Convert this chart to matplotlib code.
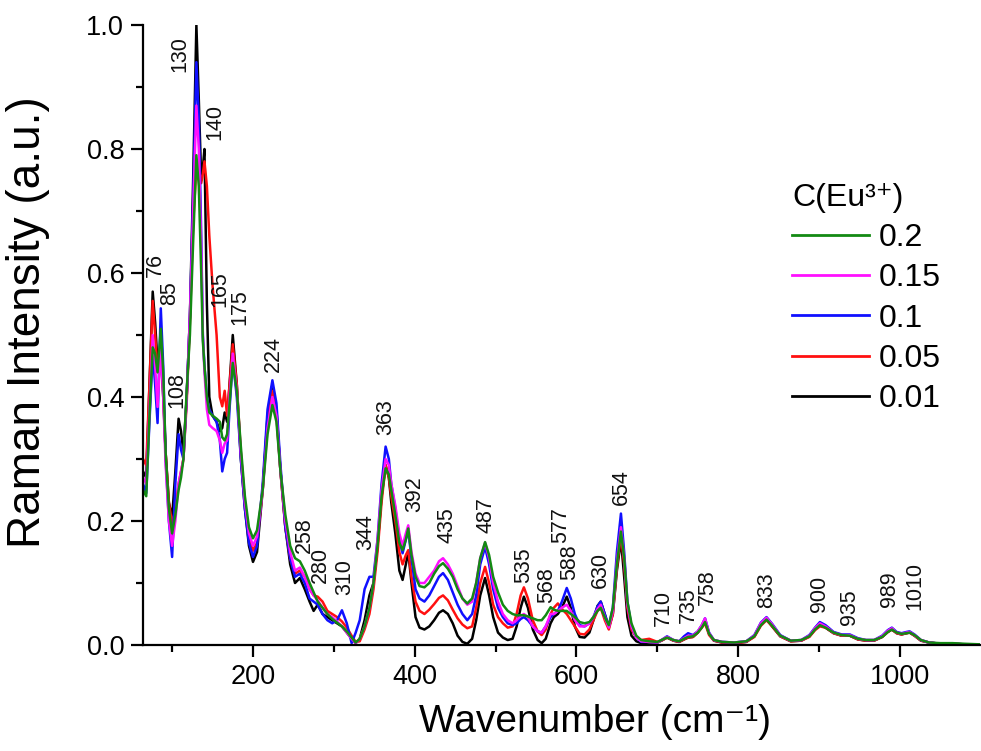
import matplotlib
matplotlib.use("Agg")
import matplotlib.pyplot as plt
from matplotlib.ticker import MultipleLocator, FixedLocator

plt.rcParams['font.family'] = ['Liberation Sans', 'DejaVu Sans']

# ---------------- data ----------------
wavenumber = [
    64, 68, 72, 76, 79, 82, 86, 89, 92, 96, 100, 104, 108, 111, 114, 118, 122, 126, 130, 133,
    136, 138, 140, 143, 146, 150, 155, 159, 162, 165, 168, 171, 175, 180, 185, 190, 195, 200,
    205, 212, 218, 224, 229, 234, 240, 246, 252, 258, 264, 270, 275, 280, 286, 292, 298, 304,
    310, 316, 322, 327,
    332, 338, 344, 349, 354, 359, 364, 368, 371, 376, 381, 385, 389, 392, 396, 401, 406, 412,
    418, 424, 430, 435, 441, 447, 453, 459, 465, 471, 476, 481, 487, 492, 497, 503, 509, 515,
    521, 526, 531, 535, 540, 546, 552, 557, 562, 568, 572, 577, 582, 588, 593, 598, 604, 610,
    616, 621, 626, 630, 635, 640, 645, 650, 655, 659, 663, 668, 674, 680,
    690, 700, 705, 712, 720, 727, 733, 738, 744, 750, 755, 759, 764, 770, 780, 795, 810, 820,
    828, 835, 842, 852, 865, 878, 888, 895, 901, 908, 918, 928, 938, 948, 958, 968, 978, 985,
    990, 996, 1002, 1008, 1012, 1018, 1026, 1036, 1050, 1065, 1080, 1100,
]

int_001 = [
    0.28, 0.27, 0.42, 0.57, 0.52, 0.455, 0.47, 0.40, 0.31, 0.23, 0.205, 0.28, 0.365, 0.345, 0.31, 0.40, 0.53, 0.75, 1.00, 0.88,
    0.75, 0.77, 0.80, 0.55, 0.40, 0.37, 0.36, 0.345, 0.35, 0.375, 0.36, 0.42, 0.50, 0.42, 0.30, 0.22, 0.16, 0.134,
    0.15, 0.25, 0.37, 0.42, 0.38, 0.28, 0.19, 0.13, 0.10, 0.108, 0.09, 0.07, 0.055, 0.065, 0.05, 0.045, 0.04, 0.035,
    0.03, 0.02, 0.01, 0.003,
    0.01, 0.04, 0.08, 0.10, 0.16, 0.24, 0.29, 0.27, 0.23, 0.18, 0.12, 0.105, 0.13, 0.15, 0.10, 0.045, 0.028, 0.025,
    0.03, 0.04, 0.052, 0.056, 0.05, 0.035, 0.015, 0.005, 0.002, 0.01, 0.04, 0.08, 0.108, 0.08, 0.045, 0.02, 0.012, 0.008,
    0.01, 0.03, 0.06, 0.078, 0.06, 0.025, 0.008, 0.003, 0.01, 0.035, 0.045, 0.05, 0.06, 0.078, 0.06, 0.03, 0.013, 0.012,
    0.02, 0.04, 0.063, 0.07, 0.05, 0.028, 0.05, 0.12, 0.17, 0.11, 0.045, 0.015, 0.006, 0.003,
    0.004, 0.004, 0.007, 0.012, 0.007, 0.005, 0.009, 0.012, 0.013, 0.02, 0.03, 0.04, 0.018, 0.007, 0.004, 0.003, 0.005, 0.014,
    0.033, 0.042, 0.03, 0.014, 0.006, 0.007, 0.014, 0.025, 0.033, 0.028, 0.019, 0.015, 0.015, 0.009, 0.007, 0.007, 0.013, 0.021,
    0.025, 0.019, 0.017, 0.019, 0.02, 0.015, 0.007, 0.004, 0.002, 0.002, 0.001, 0.0,
]

int_005 = [
    0.30, 0.29, 0.42, 0.555, 0.50, 0.44, 0.48, 0.41, 0.31, 0.23, 0.195, 0.22, 0.26, 0.28, 0.30, 0.39, 0.52, 0.68, 0.77, 0.77,
    0.745, 0.76, 0.78, 0.74, 0.66, 0.58, 0.50, 0.40, 0.385, 0.41, 0.37, 0.42, 0.485, 0.42, 0.31, 0.23, 0.175, 0.152,
    0.165, 0.25, 0.36, 0.41, 0.37, 0.28, 0.19, 0.14, 0.115, 0.12, 0.11, 0.09, 0.08, 0.078, 0.07, 0.055, 0.05, 0.045,
    0.038, 0.028, 0.015, 0.005,
    0.006, 0.025, 0.05, 0.09, 0.15, 0.23, 0.29, 0.27, 0.24, 0.20, 0.15, 0.13, 0.145, 0.153, 0.11, 0.07, 0.055, 0.05,
    0.057, 0.066, 0.076, 0.08, 0.072, 0.057, 0.043, 0.033, 0.027, 0.03, 0.06, 0.10, 0.126, 0.10, 0.065, 0.045, 0.035, 0.028,
    0.03, 0.05, 0.08, 0.093, 0.075, 0.04, 0.022, 0.016, 0.025, 0.05, 0.06, 0.067, 0.058, 0.05, 0.04, 0.03, 0.018, 0.017,
    0.025, 0.04, 0.055, 0.06, 0.04, 0.025, 0.05, 0.125, 0.178, 0.13, 0.06, 0.025, 0.012, 0.008,
    0.01, 0.005, 0.007, 0.012, 0.007, 0.005, 0.009, 0.012, 0.013, 0.02, 0.028, 0.035, 0.016, 0.007, 0.004, 0.003, 0.005, 0.013,
    0.031, 0.04, 0.03, 0.014, 0.006, 0.007, 0.013, 0.024, 0.03, 0.028, 0.019, 0.015, 0.015, 0.009, 0.007, 0.007, 0.013, 0.021,
    0.025, 0.019, 0.017, 0.019, 0.02, 0.015, 0.007, 0.004, 0.002, 0.002, 0.001, 0.0,
]

int_01 = [
    0.26, 0.245, 0.36, 0.47, 0.42, 0.358, 0.543, 0.45, 0.30, 0.20, 0.142, 0.26, 0.34, 0.315, 0.30, 0.40, 0.53, 0.72, 0.94, 0.85,
    0.66, 0.50, 0.45, 0.40, 0.38, 0.37, 0.36, 0.33, 0.28, 0.30, 0.31, 0.38, 0.46, 0.40, 0.30, 0.22, 0.165, 0.142,
    0.16, 0.26, 0.38, 0.427, 0.39, 0.29, 0.19, 0.14, 0.11, 0.115, 0.10, 0.075, 0.07, 0.065, 0.05, 0.04, 0.035, 0.04,
    0.056, 0.035, 0.003, 0.02,
    0.04, 0.09, 0.11, 0.11, 0.17, 0.26, 0.32, 0.30, 0.26, 0.22, 0.17, 0.148, 0.17, 0.185, 0.14, 0.09, 0.075, 0.07,
    0.08, 0.095, 0.11, 0.116, 0.105, 0.085, 0.065, 0.05, 0.04, 0.05, 0.08, 0.13, 0.158, 0.13, 0.09, 0.06, 0.045, 0.035,
    0.032, 0.035, 0.042, 0.045, 0.04, 0.03, 0.022, 0.02, 0.03, 0.045, 0.05, 0.055, 0.07, 0.092, 0.075, 0.05, 0.032, 0.03,
    0.035, 0.045, 0.062, 0.07, 0.05, 0.03, 0.06, 0.15, 0.212, 0.15, 0.07, 0.03, 0.012, 0.005,
    0.005, 0.004, 0.008, 0.014, 0.008, 0.006, 0.014, 0.019, 0.016, 0.022, 0.032, 0.043, 0.02, 0.008, 0.005, 0.004, 0.006, 0.016,
    0.036, 0.045, 0.034, 0.016, 0.007, 0.008, 0.016, 0.028, 0.037, 0.032, 0.021, 0.017, 0.017, 0.011, 0.008, 0.008, 0.015, 0.024,
    0.028, 0.021, 0.019, 0.021, 0.022, 0.017, 0.008, 0.004, 0.002, 0.002, 0.001, 0.0,
]

int_015 = [
    0.27, 0.26, 0.38, 0.50, 0.45, 0.384, 0.48, 0.40, 0.29, 0.20, 0.16, 0.20, 0.26, 0.28, 0.30, 0.40, 0.53, 0.70, 0.87, 0.80,
    0.64, 0.50, 0.44, 0.38, 0.355, 0.35, 0.345, 0.33, 0.31, 0.325, 0.33, 0.40, 0.47, 0.41, 0.31, 0.23, 0.18, 0.16,
    0.175, 0.25, 0.35, 0.40, 0.37, 0.28, 0.20, 0.15, 0.12, 0.125, 0.11, 0.09, 0.08, 0.072, 0.06, 0.05, 0.045, 0.038,
    0.03, 0.02, 0.01, 0.003,
    0.01, 0.03, 0.06, 0.10, 0.17, 0.25, 0.30, 0.29, 0.26, 0.225, 0.18, 0.16, 0.18, 0.193, 0.15, 0.115, 0.10, 0.10,
    0.11, 0.12, 0.135, 0.14, 0.13, 0.115, 0.095, 0.075, 0.065, 0.07, 0.10, 0.14, 0.165, 0.14, 0.10, 0.07, 0.05, 0.04,
    0.035, 0.04, 0.047, 0.05, 0.045, 0.03, 0.022, 0.02, 0.03, 0.05, 0.05, 0.055, 0.06, 0.065, 0.055, 0.04, 0.03, 0.03,
    0.035, 0.045, 0.058, 0.065, 0.045, 0.028, 0.055, 0.135, 0.19, 0.14, 0.065, 0.03, 0.012, 0.006,
    0.005, 0.004, 0.008, 0.013, 0.008, 0.006, 0.011, 0.015, 0.015, 0.022, 0.032, 0.043, 0.019, 0.008, 0.005, 0.004, 0.006, 0.015,
    0.035, 0.044, 0.033, 0.015, 0.007, 0.008, 0.015, 0.027, 0.035, 0.03, 0.02, 0.016, 0.016, 0.01, 0.008, 0.008, 0.014, 0.023,
    0.027, 0.02, 0.018, 0.02, 0.021, 0.016, 0.008, 0.004, 0.002, 0.002, 0.001, 0.0,
]

int_02 = [
    0.25, 0.24, 0.37, 0.48, 0.47, 0.44, 0.51, 0.44, 0.31, 0.22, 0.18, 0.21, 0.25, 0.27, 0.30, 0.41, 0.50, 0.65, 0.79, 0.74,
    0.60, 0.49, 0.45, 0.40, 0.375, 0.37, 0.365, 0.36, 0.335, 0.33, 0.34, 0.39, 0.455, 0.41, 0.32, 0.24, 0.19, 0.172,
    0.185, 0.25, 0.34, 0.387, 0.36, 0.28, 0.21, 0.16, 0.14, 0.135, 0.12, 0.10, 0.085, 0.07, 0.06, 0.05, 0.042, 0.036,
    0.03, 0.022, 0.012, 0.004,
    0.01, 0.03, 0.06, 0.10, 0.16, 0.24, 0.285, 0.275, 0.25, 0.21, 0.165, 0.153, 0.17, 0.188, 0.145, 0.11, 0.095, 0.093,
    0.10, 0.115, 0.127, 0.132, 0.123, 0.11, 0.09, 0.075, 0.067, 0.075, 0.10, 0.14, 0.166, 0.145, 0.11, 0.085, 0.065, 0.055,
    0.05, 0.048, 0.048, 0.048, 0.046, 0.043, 0.04, 0.04, 0.048, 0.061, 0.057, 0.055, 0.055, 0.055, 0.05, 0.045, 0.037, 0.035,
    0.037, 0.045, 0.055, 0.06, 0.045, 0.032, 0.06, 0.13, 0.183, 0.14, 0.07, 0.035, 0.015, 0.008,
    0.006, 0.005, 0.008, 0.012, 0.008, 0.006, 0.01, 0.013, 0.014, 0.02, 0.028, 0.037, 0.018, 0.008, 0.005, 0.004, 0.006, 0.014,
    0.032, 0.041, 0.031, 0.015, 0.007, 0.008, 0.014, 0.025, 0.032, 0.028, 0.02, 0.016, 0.015, 0.01, 0.008, 0.008, 0.013, 0.021,
    0.025, 0.02, 0.018, 0.019, 0.02, 0.016, 0.008, 0.004, 0.003, 0.003, 0.002, 0.001,
]

concentration_labels = ["0.01", "0.05", "0.1", "0.15", "0.2"]
series = [int_001, int_005, int_01, int_015, int_02]

peak_labels = ["76", "85", "108", "130", "140", "165", "175", "224", "258", "280", "310",
               "344", "363", "392", "435", "487", "535", "568", "577", "588", "630", "654",
               "710", "735", "758", "833", "900", "935", "989", "1010"]
# anchor positions of the rotated labels (centre x, bottom y) in data units
label_x = [79, 97, 106, 110, 153, 159, 184, 225, 264, 283, 314,
           340, 364, 400, 440, 488, 535, 563, 581, 592, 629, 656,
           708, 738, 762, 835, 901, 938, 987, 1018]
label_y = [0.594, 0.548, 0.382, 0.924, 0.815, 0.545, 0.516, 0.44, 0.148, 0.10, 0.08,
           0.153, 0.339, 0.214, 0.165, 0.18, 0.10, 0.068, 0.165, 0.105, 0.092, 0.226,
           0.03, 0.035, 0.065, 0.06, 0.053, 0.032, 0.062, 0.057]

# ---------------- styling ----------------
colors = ["#000000", "#ff1010", "#1010ff", "#ff10ff", "#138a13"]

W, H = 981, 751
fig = plt.figure(figsize=(W / 100, H / 100), dpi=100)
ax = fig.add_axes([143 / W, 1 - 645 / H, 837 / W, 620 / H])

lines = []
for ys, c, lab in zip(series, colors, concentration_labels):
    ln, = ax.plot(wavenumber, ys, color=c, lw=1.8, label=lab)
    lines.append(ln)

ax.set_xlim(64, 1099)
ax.set_ylim(0, 1.0)

for t, x, y in zip(peak_labels, label_x, label_y):
    ax.text(x, y, t, rotation=90, ha="center", va="bottom", fontsize=15.5, color="#111111")

for s in ["top", "right"]:
    ax.spines[s].set_visible(False)
for s in ["left", "bottom"]:
    ax.spines[s].set_linewidth(1.6)

ax.xaxis.set_major_locator(FixedLocator([200, 400, 600, 800, 1000]))
ax.xaxis.set_minor_locator(FixedLocator([100, 300, 500, 700, 900]))
ax.yaxis.set_major_locator(MultipleLocator(0.2))
ax.yaxis.set_minor_locator(MultipleLocator(0.1))
ax.yaxis.set_major_formatter(plt.FormatStrFormatter("%.1f"))
ax.tick_params(which="major", direction="out", length=8.5, width=1.6, labelsize=19.5, pad=5)
ax.tick_params(which="minor", direction="out", length=5, width=1.6)

ax.set_xlabel("Wavenumber (cm\u207b\u00b9)", fontsize=28, va="center")
ax.xaxis.set_label_coords(0.54, -0.124)
ax.set_ylabel("Raman Intensity (a.u.)", fontsize=33, va="center")
ax.yaxis.set_label_coords(-0.137, 0.52)

order = [4, 3, 2, 1, 0]
leg = fig.legend([lines[i] for i in order], [concentration_labels[i] for i in order],
                 title="C(Eu\u00b3\u207a)", loc="upper left",
                 bbox_to_anchor=(792 / W, 1 - 183 / H), frameon=False,
                 fontsize=23, title_fontsize=23, alignment="left",
                 borderaxespad=0, borderpad=0, labelspacing=0.32,
                 handlelength=2.4, handletextpad=0.3)
for ln in leg.get_lines():
    ln.set_linewidth(2.0)

fig.savefig("out.png", dpi=100)
